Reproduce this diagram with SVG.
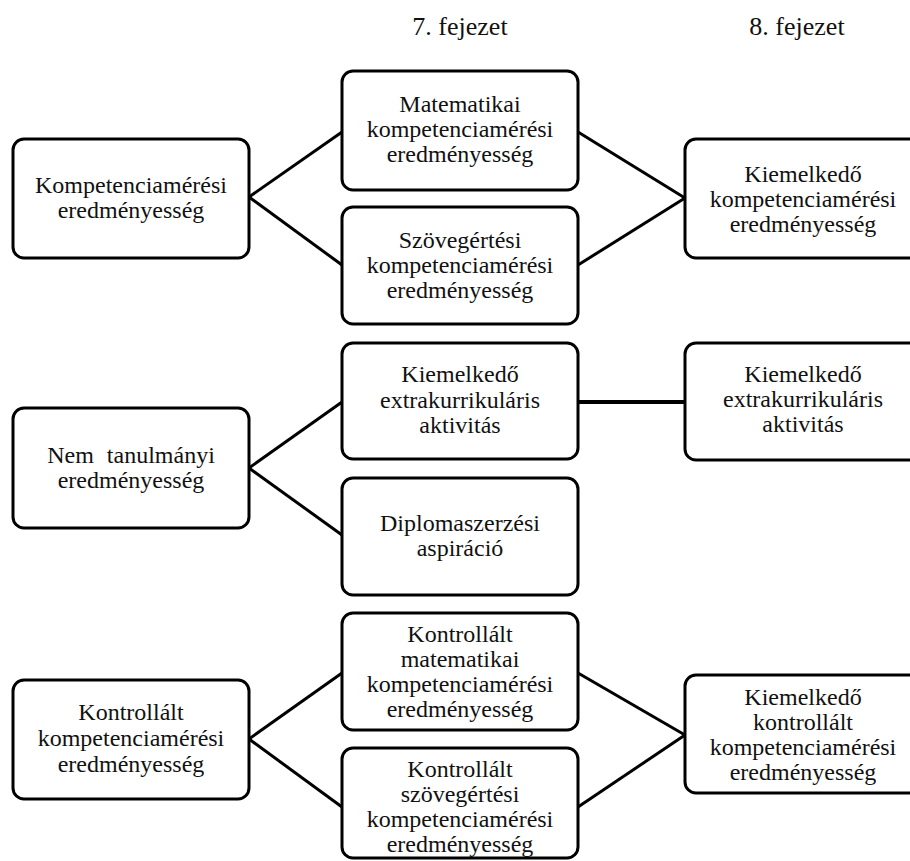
<svg xmlns="http://www.w3.org/2000/svg" width="910" height="861" viewBox="0 0 910 861">
<style>
.box{fill:#fff;stroke:#000;stroke-width:3}
.t{font-size:24px;fill:#111;text-anchor:middle}
.h{font-size:26px;fill:#111;text-anchor:middle}
.c{stroke:#000;stroke-width:3;fill:none}
.ct{stroke:#000;stroke-width:4;fill:none}
</style>
<rect width="910" height="861" fill="#fff"/>
<g font-family="Liberation Serif, Times New Roman, DejaVu Serif, serif">
<g id="headers">
<text class="h" x="460" y="35">7. fejezet</text>
<text class="h" x="797" y="35">8. fejezet</text>
</g>
<g id="connectors">
<line class="c" x1="249" y1="197" x2="342" y2="132"/>
<line class="c" x1="249" y1="197" x2="342" y2="265"/>
<line class="c" x1="578" y1="132" x2="685" y2="198"/>
<line class="c" x1="578" y1="265" x2="685" y2="198"/>
<line class="c" x1="249" y1="468" x2="342" y2="402"/>
<line class="c" x1="249" y1="468" x2="342" y2="535"/>
<line class="ct" x1="578" y1="402" x2="685" y2="402"/>
<line class="c" x1="249" y1="739" x2="342" y2="673"/>
<line class="c" x1="249" y1="739" x2="342" y2="807"/>
<line class="c" x1="578" y1="673" x2="685" y2="735"/>
<line class="c" x1="578" y1="807" x2="685" y2="735"/>
</g>
<g id="n1">
<rect class="box" x="13" y="139" width="236" height="119" rx="11"/>
<text class="t" x="131" y="193">Kompetenciamérési</text>
<text class="t" x="131" y="218">eredményesség</text>
</g>
<g id="n2">
<rect class="box" x="342" y="71" width="236" height="119" rx="11"/>
<text class="t" x="460" y="112">Matematikai</text>
<text class="t" x="460" y="137">kompetenciamérési</text>
<text class="t" x="460" y="162">eredményesség</text>
</g>
<g id="n3">
<rect class="box" x="342" y="207" width="236" height="117" rx="11"/>
<text class="t" x="460" y="248">Szövegértési</text>
<text class="t" x="460" y="273">kompetenciamérési</text>
<text class="t" x="460" y="298">eredményesség</text>
</g>
<g id="n4">
<rect class="box" x="685" y="139" width="236" height="119" rx="11"/>
<text class="t" x="803" y="182">Kiemelkedő</text>
<text class="t" x="803" y="207">kompetenciamérési</text>
<text class="t" x="803" y="232">eredményesség</text>
</g>
<g id="n5">
<rect class="box" x="13" y="408" width="236" height="120" rx="11"/>
<text class="t" x="131" y="463" word-spacing="7">Nem tanulmányi</text>
<text class="t" x="131" y="488">eredményesség</text>
</g>
<g id="n6">
<rect class="box" x="342" y="343" width="236" height="116" rx="11"/>
<text class="t" x="460" y="382">Kiemelkedő</text>
<text class="t" x="460" y="408">extrakurrikuláris</text>
<text class="t" x="460" y="433">aktivitás</text>
</g>
<g id="n7">
<rect class="box" x="342" y="478" width="236" height="117" rx="11"/>
<text class="t" x="460" y="531">Diplomaszerzési</text>
<text class="t" x="460" y="556">aspiráció</text>
</g>
<g id="n8">
<rect class="box" x="685" y="343" width="236" height="117" rx="11"/>
<text class="t" x="803" y="382">Kiemelkedő</text>
<text class="t" x="803" y="407">extrakurrikuláris</text>
<text class="t" x="803" y="432">aktivitás</text>
</g>
<g id="n9">
<rect class="box" x="13" y="680" width="236" height="119" rx="11"/>
<text class="t" x="131" y="720">Kontrollált</text>
<text class="t" x="131" y="746">kompetenciamérési</text>
<text class="t" x="131" y="772">eredményesség</text>
</g>
<g id="n10">
<rect class="box" x="342" y="613" width="236" height="117" rx="11"/>
<text class="t" x="460" y="642">Kontrollált</text>
<text class="t" x="460" y="667">matematikai</text>
<text class="t" x="460" y="692">kompetenciamérési</text>
<text class="t" x="460" y="717">eredményesség</text>
</g>
<g id="n11">
<rect class="box" x="342" y="748" width="236" height="110" rx="11"/>
<text class="t" x="460" y="777">Kontrollált</text>
<text class="t" x="460" y="802">szövegértési</text>
<text class="t" x="460" y="827">kompetenciamérési</text>
<text class="t" x="460" y="852">eredményesség</text>
</g>
<g id="n12">
<rect class="box" x="685" y="675" width="236" height="118" rx="11"/>
<text class="t" x="803" y="705">Kiemelkedő</text>
<text class="t" x="803" y="730">kontrollált</text>
<text class="t" x="803" y="755">kompetenciamérési</text>
<text class="t" x="803" y="780">eredményesség</text>
</g>
</g>
</svg>
